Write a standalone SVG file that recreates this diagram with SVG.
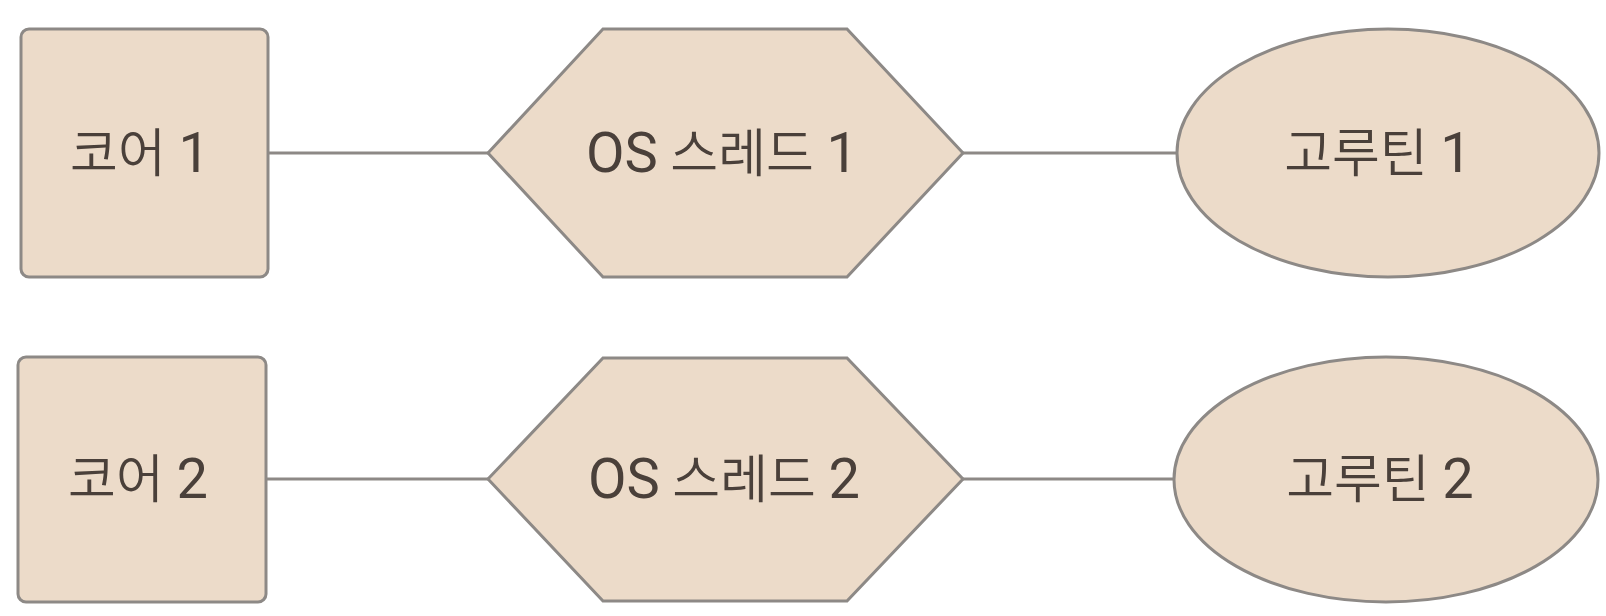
<svg xmlns="http://www.w3.org/2000/svg" width="1606" height="616" viewBox="0 0 1606 616">
<style>
.shape{fill:#ecdbc9;stroke:#8d8986;stroke-width:3}
.conn{stroke:#8d8986;stroke-width:3;fill:none}
.lbl{font-family:Roboto,"Noto Sans CJK KR",sans-serif;font-size:52px;font-weight:350;fill:#4a403a;text-anchor:middle}
.lat{font-size:56px;font-weight:400}
</style>
<rect width="1606" height="616" fill="#ffffff"/>
<g id="connectors">
<line class="conn" x1="268" y1="153" x2="488" y2="153"/>
<line class="conn" x1="963" y1="153" x2="1177" y2="153"/>
<line class="conn" x1="266" y1="479" x2="488" y2="479"/>
<line class="conn" x1="963" y1="479" x2="1174" y2="479"/>
</g>
<g id="core1">
<rect class="shape" x="21" y="29" width="247" height="248" rx="8"/>
<text class="lbl" x="140" y="172">코어 <tspan class="lat">1</tspan></text>
</g>
<g id="thread1">
<polygon class="shape" points="488,153 603,29 847,29 963,153 847,277 603,277"/>
<text class="lbl" x="722" y="172"><tspan class="lat">OS</tspan> 스레드 <tspan class="lat">1</tspan></text>
</g>
<g id="goroutine1">
<ellipse class="shape" cx="1388" cy="153" rx="211" ry="124"/>
<text class="lbl" x="1378" y="172">고루틴 <tspan class="lat">1</tspan></text>
</g>
<g id="core2">
<rect class="shape" x="18" y="357" width="248" height="245" rx="8"/>
<text class="lbl" x="138" y="498">코어 <tspan class="lat">2</tspan></text>
</g>
<g id="thread2">
<polygon class="shape" points="488,479 603,358 847,358 963,479 847,601 603,601"/>
<text class="lbl" x="724" y="498"><tspan class="lat">OS</tspan> 스레드 <tspan class="lat">2</tspan></text>
</g>
<g id="goroutine2">
<ellipse class="shape" cx="1386" cy="479.5" rx="212" ry="122.5"/>
<text class="lbl" x="1380" y="498">고루틴 <tspan class="lat">2</tspan></text>
</g>
</svg>
